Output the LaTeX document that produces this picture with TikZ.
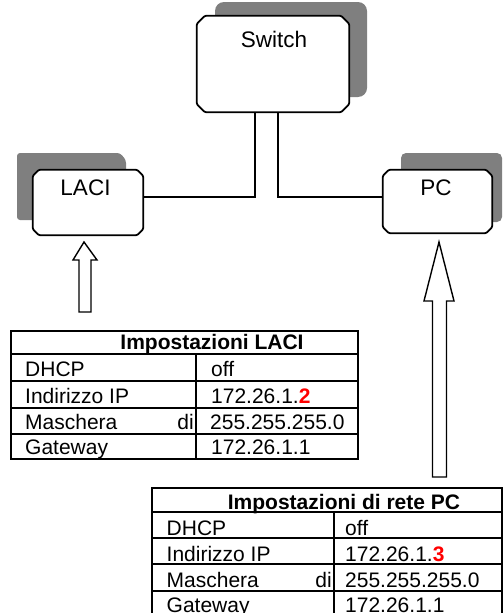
\documentclass[tikz,border=0pt]{standalone}
\usepackage{fontspec}
\setmainfont{Liberation Sans}
\definecolor{shadowgray}{HTML}{7F7F7F}
\definecolor{ipred}{HTML}{FF0000}
\newcommand{\chamferbox}[2]{%
  \draw[devoutline] ([xshift=#2]#1.north west) -- ([xshift=-#2]#1.north east) -- ([yshift=-#2]#1.north east)
    -- ([yshift=#2]#1.south east) -- ([xshift=-#2]#1.south east) -- ([xshift=#2]#1.south west)
    -- ([yshift=#2]#1.south west) -- ([yshift=-#2]#1.north west) -- cycle;}
\begin{document}
\begin{tikzpicture}[x=1pt,y=-1pt,
  devbox/.style={rectangle, draw=none, inner sep=0pt},
  devoutline/.style={draw, fill=white, line width=1.8pt, line join=round, rounded corners=1.2pt},
  shadowshape/.style={fill=shadowgray, draw=none},
  devlabel/.style={font=\fontsize{22.5}{26}\selectfont, inner sep=0pt, anchor=base},
  link/.style={draw, line width=1.7pt},
  blockarrow/.style={draw, fill=white, line width=1.4pt, line join=miter},
  tableline/.style={line width=1.8pt, line cap=rect},
  cell/.style={font=\fontsize{21}{25}\selectfont, inner sep=0pt, anchor=base west},
  cellhead/.style={font=\fontsize{21}{25}\selectfont\bfseries, inner sep=0pt, anchor=base},
  cellright/.style={font=\fontsize{21}{25}\selectfont, inner sep=0pt, anchor=base east}]
\useasboundingbox (0,0) rectangle (503,613);
\clip (0,0) rectangle (503,613);

% shadows
\path[shadowshape, rounded corners=9pt] (215,2) -- (367,2) -- (367,97) -- (215,97) -- cycle;
\path[shadowshape, rounded corners=3pt] (17,153) -- (120,153) -- (126,160) -- (126,220) -- (17,220) -- cycle;
\path[shadowshape, rounded corners=5pt] (401,153) -- (502,153) -- (502,222) -- (401,222) -- cycle;

% devices
\node[devbox, minimum width=152pt, minimum height=96pt] (sw) at (273,64) {};
\node[devbox, minimum width=110pt, minimum height=65pt] (laci) at (88,202.5) {};
\node[devbox, minimum width=109pt, minimum height=63pt] (pc) at (437.5,201.5) {};
\chamferbox{sw}{8pt}
\chamferbox{laci}{6pt}
\chamferbox{pc}{6pt}
\node[devlabel] (swl) at (274,47) {Switch};
\node[devlabel] (lacil) at (85.5,195) {LACI};
\node[devlabel] (pcl) at (436,195) {PC};

% connectors
\draw[link] ([xshift=-18pt]sw.south) |- ([yshift=5.5pt]laci.east);
\draw[link] ([xshift=5pt]sw.south) |- ([yshift=4.5pt]pc.west);

% block arrows
\draw[blockarrow] (84,242) -- (97,260) -- (91,260) -- (91,312) -- (79,312) -- (79,260) -- (73,260) -- cycle;
\draw[blockarrow] (439,242) -- (454,301) -- (446.5,301) -- (446.5,477) -- (432.5,477) -- (432.5,301) -- (424,301) -- cycle;

% LACI table
\draw[tableline] (11,331) rectangle (358,459);
\foreach \y in {354,381,408,434} \draw[tableline] (11,\y) -- (358,\y);
\draw[tableline] (196,354) -- (196,459);
\node[cellhead] (lh) at (212,349) {Impostazioni LACI};
\node[cell] (l1a) at (25,376.5) {DHCP};
\node[cell] (l1b) at (211,376.5) {off};
\node[cell] (l2a) at (25,403) {Indirizzo IP};
\node[cell] (l2b) at (211,403) {172.26.1.\textcolor{ipred}{\bfseries 2}};
\node[cell] (l3a) at (25,429.5) {Maschera};
\node[cellright] (l3c) at (194,429.5) {di};
\node[cell] (l3b) at (210,429.5) {255.255.255.0};
\node[cell] (l4a) at (25,454) {Gateway};
\node[cell] (l4b) at (211,454) {172.26.1.1};

% PC table
\draw[tableline] (152,488) rectangle (502,617);
\foreach \y in {512,538,564,591} \draw[tableline] (152,\y) -- (502,\y);
\draw[tableline] (334,512) -- (334,617);
\node[cellhead] (ph) at (344,509) {Impostazioni di rete PC};
\node[cell] (p1a) at (166.5,535) {DHCP};
\node[cell] (p1b) at (345,535) {off};
\node[cell] (p2a) at (166.5,561) {Indirizzo IP};
\node[cell] (p2b) at (345,561) {172.26.1.\textcolor{ipred}{\bfseries 3}};
\node[cell] (p3a) at (166.5,587) {Maschera};
\node[cellright] (p3c) at (332,587) {di};
\node[cell] (p3b) at (345,587) {255.255.255.0};
\node[cell] (p4a) at (166.5,612) {Gateway};
\node[cell] (p4b) at (345,612) {172.26.1.1};
\end{tikzpicture}
\end{document}
